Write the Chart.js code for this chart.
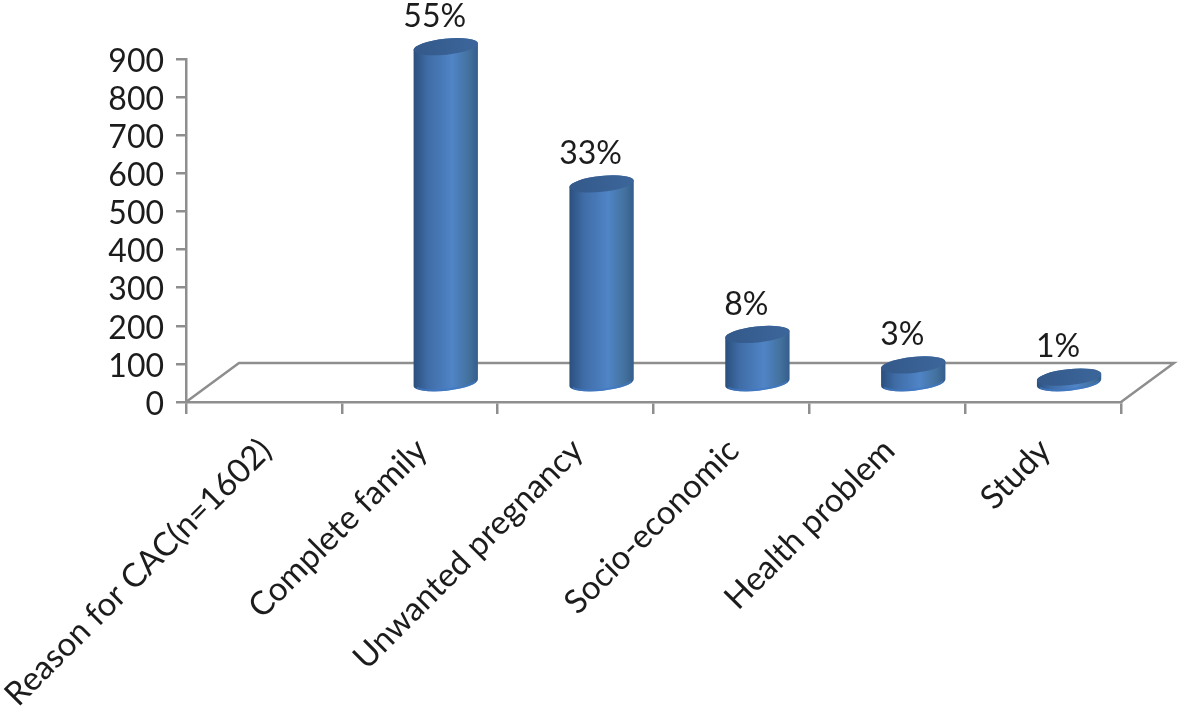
<!DOCTYPE html>
<html>
<head>
<meta charset="utf-8">
<title>Reason for CAC</title>
<style>
  html, body { margin: 0; padding: 0; background: #fff; }
  canvas { display: block; }
</style>
</head>
<body>
<canvas id="chart" width="1181" height="709"></canvas>
<script src="https://cdn.jsdelivr.net/npm/chart.js"></script>
<script>
  const categories = ["Reason for CAC(n=1602)", "Complete family", "Unwanted pregnancy", "Socio-economic", "Health problem", "Study"];
  const counts = [null, 885, 525, 130, 50, 18];
  const percentLabels = ["", "55%", "33%", "8%", "3%", "1%"];
  const yTicks = [0, 100, 200, 300, 400, 500, 600, 700, 800, 900];

  const axisGrey = "#8e8e8e";
  const textColor = "#1c1c1c";
  const fontFamily = "Lato, 'Open Sans', sans-serif";

  // fake depth of the old 3D chart
  const depthX = 53, depthY = 39;
  const barShiftX = 26, barShiftY = -18;
  const capTilt = -6 * Math.PI / 180;
  const capRy = 8;

  const cylinders = {
    id: "cylinders",
    beforeDatasetsDraw(chart) {
      const { ctx, chartArea } = chart;
      const { left, right, bottom } = chartArea;

      // floor
      ctx.save();
      ctx.strokeStyle = axisGrey;
      ctx.lineWidth = 2.5;
      ctx.beginPath();
      ctx.moveTo(left, bottom);
      ctx.lineTo(left + depthX, bottom - depthY);
      ctx.lineTo(right + depthX, bottom - depthY);
      ctx.lineTo(right, bottom);
      ctx.stroke();
      ctx.restore();

      chart.getDatasetMeta(0).data.forEach((bar, i) => {
        if (counts[i] === null) return;
        const cx = bar.x + barShiftX;
        const topY = bar.y + barShiftY;
        const baseY = bar.base + barShiftY;
        const rx = bar.width / 2;

        const side = ctx.createLinearGradient(cx - rx, 0, cx + rx, 0);
        side.addColorStop(0, "#2a4f7c");
        side.addColorStop(0.22, "#3f6ca6");
        side.addColorStop(0.6, "#4f84c6");
        side.addColorStop(0.85, "#44729f");
        side.addColorStop(1, "#345d8c");

        ctx.save();
        ctx.beginPath();
        ctx.ellipse(cx, baseY, rx, capRy, capTilt, 0, Math.PI);
        ctx.ellipse(cx, topY, rx, capRy, capTilt, Math.PI, 2 * Math.PI);
        ctx.closePath();
        ctx.fillStyle = side;
        ctx.fill();

        // lighter rim along the bottom
        ctx.beginPath();
        ctx.ellipse(cx, baseY - 1, rx - 1, capRy, capTilt, 0.35, Math.PI - 0.35);
        ctx.strokeStyle = "rgba(62, 120, 196, 0.7)";
        ctx.lineWidth = 2;
        ctx.stroke();

        const cap = ctx.createLinearGradient(cx - rx, 0, cx + rx, 0);
        cap.addColorStop(0, "#34598a");
        cap.addColorStop(1, "#3c669b");
        ctx.beginPath();
        ctx.ellipse(cx, topY, rx, capRy, capTilt, 0, 2 * Math.PI);
        ctx.fillStyle = cap;
        ctx.fill();

        // percent label over the bar
        ctx.fillStyle = textColor;
        ctx.font = "32px " + fontFamily;
        ctx.textAlign = "center";
        ctx.textBaseline = "middle";
        ctx.fillText(percentLabels[i], cx - 11, topY - 30);
        ctx.restore();
      });
      return false;
    }
  };

  new Chart(document.getElementById("chart"), {
    type: "bar",
    data: {
      labels: categories,
      datasets: [{
        label: "Reason for CAC",
        data: counts,
        backgroundColor: "#4f81bd",
        categoryPercentage: 1,
        barPercentage: 0.415
      }]
    },
    plugins: [cylinders],
    options: {
      responsive: false,
      animation: false,
      layout: { padding: { top: 59, right: 60, left: 0, bottom: 0 } },
      plugins: { legend: { display: false }, tooltip: { enabled: false } },
      scales: {
        x: {
          // long first label must not push the plot area to the right
          afterFit(scale) {
            scale.height = 307;
            scale.paddingLeft = 0;
            scale.paddingRight = 0;
          },
          border: { color: axisGrey, width: 2.5 },
          grid: { color: axisGrey, lineWidth: 2.5, drawOnChartArea: false, tickLength: 12 },
          ticks: {
            autoSkip: false,
            minRotation: 45,
            maxRotation: 45,
            padding: 17,
            labelOffset: 2,
            color: textColor,
            font: { family: fontFamily, size: 33 }
          }
        },
        y: {
          min: 0,
          max: 900,
          afterFit(scale) { scale.width = 186; },
          afterBuildTicks(scale) { scale.ticks = yTicks.map(v => ({ value: v })); },
          border: { color: axisGrey, width: 2.5 },
          grid: { color: axisGrey, lineWidth: 2.5, drawOnChartArea: false, tickLength: 10 },
          ticks: {
            autoSkip: false,
            padding: 12,
            labelOffset: 2.5,
            color: textColor,
            font: { family: fontFamily, size: 32 }
          }
        }
      }
    }
  });
</script>
</body>
</html>
